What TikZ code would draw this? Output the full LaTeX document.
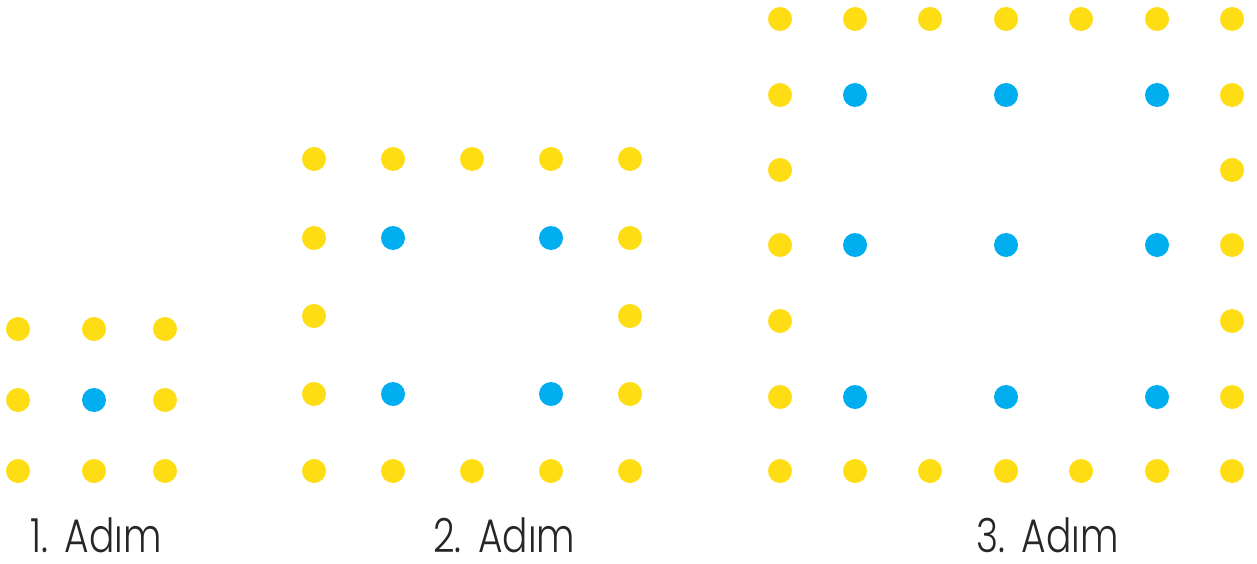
\documentclass[tikz,border=0pt]{standalone}
\usepackage{fontspec}
\setmainfont{Poppins Light}
\definecolor{dotyellow}{HTML}{FFDD15}
\definecolor{dotblue}{HTML}{00AEEF}
\newcommand{\steptext}[1]{\scalebox{0.8}[1]{#1.\hspace{0.45em}Adım}}
\tikzset{
  ydot/.style={circle,fill=dotyellow,inner sep=0pt,minimum size=24pt},
  bdot/.style={circle,fill=dotblue,inner sep=0pt,minimum size=24pt},
  steplabel/.style={anchor=base west,inner sep=0pt,text depth=0pt,font=\fontsize{47}{50}\selectfont,text=black!85}
}
\begin{document}
\begin{tikzpicture}[x=1pt,y=-1pt]
\useasboundingbox (0,0) rectangle (1257,564);
% Step 1
\foreach \i/\x in {1/18,2/94,3/165}{
  \foreach \j/\y in {1/329,2/400,3/471}{
    \ifnum\i=2 \ifnum\j=2
      \node[bdot] (a\i\j) at (\x,\y) {};
    \else
      \node[ydot] (a\i\j) at (\x,\y) {};
    \fi\else
      \node[ydot] (a\i\j) at (\x,\y) {};
    \fi
  }
}
% Step 2
\foreach \i/\x in {1/314,2/393,3/472,4/551,5/630}{
  \foreach \j/\y in {1/159,2/238,3/316,4/394,5/471}{
    \pgfmathsetmacro\edge{(\i==1)||(\i==5)||(\j==1)||(\j==5)}
    \pgfmathsetmacro\blue{(\i==2||\i==4)&&(\j==2||\j==4)}
    \ifdim\edge pt>0.5pt
      \node[ydot] (b\i\j) at (\x,\y) {};
    \else\ifdim\blue pt>0.5pt
      \node[bdot] (b\i\j) at (\x,\y) {};
    \fi\fi
  }
}
% Step 3
\foreach \i/\x in {1/780,2/855,3/930,4/1006,5/1081,6/1157,7/1232}{
  \foreach \j/\y in {1/19,2/95,3/170,4/245,5/321,6/397,7/471}{
    \pgfmathsetmacro\edge{(\i==1)||(\i==7)||(\j==1)||(\j==7)}
    \pgfmathsetmacro\blue{(\i==2||\i==4||\i==6)&&(\j==2||\j==4||\j==6)}
    \ifdim\edge pt>0.5pt
      \node[ydot] (c\i\j) at (\x,\y) {};
    \else\ifdim\blue pt>0.5pt
      \node[bdot] (c\i\j) at (\x,\y) {};
    \fi\fi
  }
}
\node[steplabel] (l1) at (30,552) {\steptext{1}};
\node[steplabel] (l2) at (433,552) {\steptext{2}};
\node[steplabel] (l3) at (976,552) {\steptext{3}};
\end{tikzpicture}
\end{document}
